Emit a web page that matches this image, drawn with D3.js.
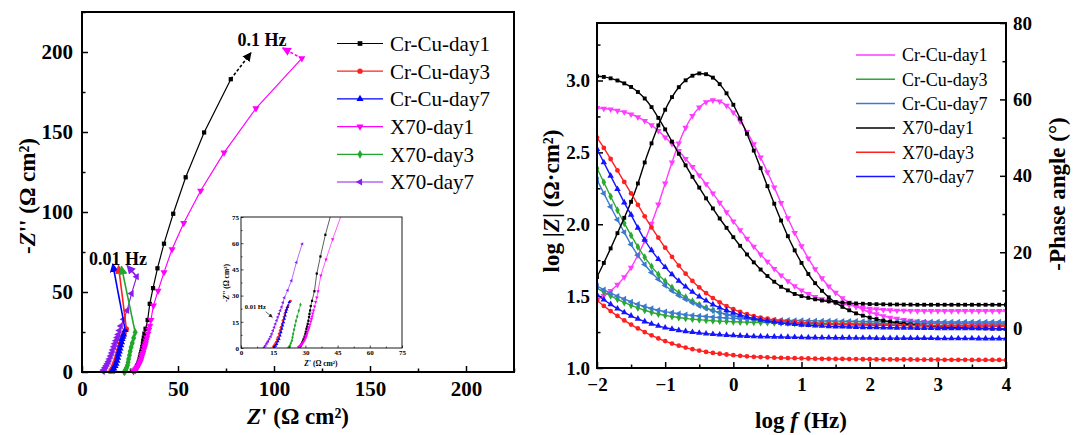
<!DOCTYPE html>
<html>
<head>
<meta charset="utf-8">
<script src="https://cdn.jsdelivr.net/npm/d3@7"></script>
<style>
  body { margin: 0; background: #fff; }
</style>
</head>
<body>
<script>
// ---------- Nyquist data [Z', -Z''] (ohm cm2), high -> low frequency ----------
const nyqCrCu1 = [[27.1,0.4],[27.5,0.8],[27.8,1.3],[28.2,2.2],[28.6,3.3],[28.9,4.2],[29.2,5.2],[29.6,6.5],[30.0,8.0],[30.2,9.3],
  [30.5,11.0],[30.8,12.3],[31.1,13.8],[31.4,15.6],[31.7,17.7],[31.9,19.5],[32.2,21.5],[32.5,24.0],[33.1,27.0],[34.2,32.5],
  [35.3,42.6],[37.0,52.4],[39.3,64.8],[42.7,80.2],[47.5,98.9],[54.0,121.7],[63.6,149.7],[77.5,183.0]];
const nyqCrCu3 = [[15.1,0.8],[15.7,2.0],[16.3,3.3],[16.8,4.8],[17.2,6.2],[17.7,8.1],[18.2,10.0],[18.6,11.9],[19.1,13.8],[19.5,15.8],
  [20.0,17.7],[20.4,19.6],[20.9,21.5],[21.4,23.0],[22.0,24.4],[23.1,26.9]];
const nyqCrCu7 = [[15.5,0.4],[16.1,1.3],[16.6,2.3],[17.2,3.8],[17.7,5.2],[18.2,7.1],[18.6,9.0],[19.0,11.0],[19.4,12.9],[19.8,14.8],
  [20.2,16.7],[20.6,18.6],[20.9,20.6],[21.3,22.0],[21.7,23.5],[22.5,26.3]];
const nyqX70d1 = [[26.8,0.4],[27.4,1.0],[28.0,1.7],[28.5,2.5],[28.9,3.3],[29.4,4.2],[29.8,5.2],[30.2,6.1],[30.5,7.1],[30.8,8.3],
  [31.1,9.6],[31.4,10.8],[31.7,11.9],[32.1,13.5],[32.5,15.2],[32.8,16.6],[33.1,18.0],[33.4,19.7],[33.8,21.5],[34.3,23.8],
  [34.8,26.3],[35.3,28.9],[35.9,32.5],[37.2,41.5],[39.6,50.7],[42.7,62.3],[46.9,76.7],[53.0,93.1],[61.8,113.3],[74.0,137.1],
  [90.6,164.8],[114.5,196.0]];
const nyqX70d3 = [[22.0,0.0],[22.4,0.6],[22.8,1.3],[23.2,2.7],[23.7,4.2],[24.0,6.1],[24.3,8.1],[24.7,10.5],[25.1,12.9],[25.6,15.5],
  [26.2,18.1],[26.9,21.3],[27.7,24.8]];
const nyqX70d7 = [[10.8,0.4],[11.4,1.4],[12.0,2.7],[12.6,3.9],[13.2,5.2],[13.8,6.6],[14.3,8.1],[14.9,10.0],[15.5,11.9],[16.0,13.8],
  [16.6,15.8],[17.1,17.7],[17.7,19.6],[18.3,21.5],[18.9,23.5],[19.5,26.0],[20.2,28.8],[21.7,33.0],[23.5,38.5],[25.8,49.0],
  [28.5,59.6]];

// frequency arrows: [series, from, to]
const arrowsLow = [["Cr-Cu-day7",[22.5,26.3],[16.0,67.5]],["Cr-Cu-day3",[23.1,26.9],[19.0,66.5]],
  ["X70-day3",[27.7,24.8],[20.5,66.0]],["X70-day7",[28.5,59.6],[23.5,66.5]]];
const arrowsHigh = [["Cr-Cu-day1",[77.5,183.0],[88.0,199.5]],["X70-day1",[114.5,196.0],[104.5,202.5]]];

// ---------- Bode data ----------
const logF = [-2.0,-1.9,-1.8,-1.7,-1.6,-1.5,-1.4,-1.3,-1.2,-1.1,
  -1.0,-0.9,-0.8,-0.7,-0.6,-0.5,-0.4,-0.3,-0.2,-0.1,
  0.0,0.1,0.2,0.3,0.4,0.5,0.6,0.7,0.8,0.9,
  1.0,1.1,1.2,1.3,1.4,1.5,1.6,1.7,1.8,1.9,
  2.0,2.1,2.2,2.3,2.4,2.5,2.6,2.7,2.8,2.9,
  3.0,3.1,3.2,3.3,3.4,3.5,3.6,3.7,3.8,3.9,
  4.0];

const zCrCu1 = [2.81,2.805,2.80,2.79,2.78,2.765,2.745,2.72,2.69,2.65,
  2.605,2.56,2.51,2.455,2.40,2.34,2.28,2.215,2.15,2.085,
  2.02,1.96,1.90,1.845,1.79,1.74,1.69,1.645,1.605,1.57,
  1.54,1.515,1.495,1.48,1.468,1.457,1.447,1.437,1.428,1.42,
  1.414,1.409,1.405,1.402,1.40,1.399,1.398,1.397,1.397,1.397,
  1.397,1.397,1.397,1.397,1.397,1.397,1.397,1.397,1.397,1.397,
  1.397];
const phCrCu1 = [7.5,8.6,9.9,11.5,13.5,16.0,19.2,23.0,27.5,32.5,
  38.0,43.5,48.5,52.6,55.7,57.9,59.3,59.8,59.5,58.4,
  56.6,54.3,51.5,48.3,44.8,41.0,37.0,32.9,28.9,25.1,
  21.6,18.4,15.6,13.2,11.1,9.4,8.0,6.8,5.8,5.0,
  4.3,3.8,3.3,2.9,2.6,2.3,2.1,1.9,1.75,1.6,
  1.5,1.4,1.35,1.3,1.25,1.2,1.15,1.1,1.1,1.05,
  1.0];
const zCrCu3 = [1.555,1.528,1.502,1.478,1.456,1.436,1.418,1.402,1.388,1.376,
  1.366,1.358,1.351,1.345,1.34,1.336,1.332,1.329,1.326,1.324,
  1.322,1.32,1.319,1.318,1.317,1.316,1.315,1.315,1.314,1.314,
  1.313,1.313,1.313,1.312,1.312,1.312,1.312,1.311,1.311,1.311,
  1.311,1.311,1.311,1.31,1.31,1.31,1.31,1.31,1.31,1.31,
  1.31,1.31,1.31,1.309,1.309,1.309,1.309,1.309,1.308,1.308,
  1.308];
const phCrCu3 = [42.0,38.3,34.6,31.0,27.6,24.4,21.4,18.7,16.3,14.2,
  12.4,10.8,9.4,8.2,7.2,6.3,5.5,4.8,4.2,3.7,
  3.3,2.9,2.6,2.3,2.1,1.9,1.75,1.6,1.5,1.4,
  1.3,1.25,1.2,1.15,1.1,1.05,1.0,1.0,0.95,0.95,
  0.9,0.9,0.9,0.85,0.85,0.85,0.85,0.8,0.8,0.8,
  0.8,0.8,0.8,0.75,0.75,0.75,0.75,0.75,0.75,0.7,
  0.7];
const zCrCu7 = [1.57,1.545,1.52,1.50,1.48,1.46,1.443,1.428,1.414,1.402,
  1.392,1.384,1.377,1.371,1.366,1.362,1.358,1.354,1.351,1.348,
  1.345,1.343,1.341,1.339,1.337,1.335,1.334,1.333,1.332,1.331,
  1.33,1.329,1.328,1.327,1.327,1.326,1.326,1.325,1.325,1.324,
  1.324,1.323,1.323,1.323,1.322,1.322,1.322,1.322,1.321,1.321,
  1.321,1.321,1.321,1.32,1.32,1.32,1.32,1.32,1.32,1.32,
  1.32];
const phCrCu7 = [39.0,35.4,31.9,28.5,25.2,22.0,19.2,16.8,14.7,12.9,
  11.3,9.9,8.7,7.7,6.8,6.0,5.3,4.7,4.2,3.8,
  3.4,3.1,2.8,2.6,2.4,2.15,1.95,1.8,1.7,1.6,
  1.5,1.45,1.4,1.35,1.3,1.25,1.2,1.15,1.1,1.1,
  1.05,1.0,1.0,0.95,0.95,0.9,0.9,0.9,0.9,0.85,
  0.85,0.85,0.85,0.85,0.8,0.8,0.8,0.8,0.8,0.8,
  0.8];
const zX70d1 = [3.03,3.025,3.015,3.00,2.98,2.955,2.92,2.875,2.815,2.74,
  2.66,2.575,2.49,2.41,2.33,2.255,2.18,2.11,2.04,1.975,
  1.91,1.85,1.79,1.735,1.685,1.64,1.60,1.565,1.54,1.515,
  1.50,1.488,1.478,1.47,1.464,1.459,1.455,1.452,1.449,1.447,
  1.445,1.444,1.443,1.442,1.442,1.441,1.441,1.44,1.44,1.44,
  1.44,1.44,1.44,1.44,1.44,1.44,1.44,1.44,1.44,1.44,
  1.44];
const phX70d1 = [13.5,17.2,21.0,25.0,29.0,33.2,38.0,43.5,48.5,53.2,
  57.3,60.6,63.2,65.0,66.2,66.8,66.6,65.7,64.0,61.6,
  58.6,55.0,51.0,46.6,42.0,37.3,32.7,28.3,24.2,20.5,
  17.2,14.3,11.9,9.9,8.2,6.8,5.7,4.8,4.0,3.4,
  2.9,2.5,2.1,1.8,1.5,1.3,1.1,0.9,0.8,0.6,
  0.5,0.4,0.3,0.25,0.2,0.15,0.1,0.05,0.0,0.0,
  -0.05];
const zX70d3 = [1.47,1.432,1.396,1.362,1.331,1.302,1.275,1.25,1.227,1.206,
  1.187,1.17,1.155,1.142,1.131,1.121,1.112,1.105,1.099,1.094,
  1.089,1.085,1.081,1.078,1.076,1.074,1.072,1.07,1.069,1.068,
  1.067,1.066,1.065,1.064,1.064,1.063,1.063,1.062,1.062,1.061,
  1.061,1.06,1.06,1.06,1.059,1.059,1.059,1.058,1.058,1.058,
  1.058,1.057,1.057,1.057,1.057,1.056,1.056,1.056,1.056,1.056,
  1.055];
const phX70d3 = [50.0,47.3,44.4,41.4,38.4,35.4,32.4,29.4,26.5,23.8,
  21.2,18.8,16.5,14.4,12.5,10.8,9.3,8.0,6.9,5.9,
  5.1,4.4,3.8,3.3,2.9,2.6,2.3,2.1,1.9,1.75,
  1.6,1.5,1.4,1.3,1.25,1.2,1.15,1.1,1.05,1.0,
  0.95,0.9,0.9,0.85,0.85,0.8,0.8,0.8,0.75,0.75,
  0.75,0.7,0.7,0.7,0.7,0.65,0.65,0.65,0.65,0.6,
  0.6];
const zX70d7 = [1.51,1.475,1.443,1.413,1.387,1.363,1.342,1.323,1.307,1.293,
  1.281,1.271,1.262,1.255,1.249,1.244,1.239,1.235,1.232,1.229,
  1.226,1.224,1.222,1.22,1.219,1.218,1.217,1.216,1.215,1.214,
  1.213,1.212,1.212,1.211,1.211,1.21,1.21,1.21,1.209,1.209,
  1.209,1.208,1.208,1.208,1.208,1.207,1.207,1.207,1.207,1.207,
  1.206,1.206,1.206,1.206,1.206,1.206,1.205,1.205,1.205,1.205,
  1.205];
const phX70d7 = [47.0,43.5,40.0,36.5,33.0,29.8,26.4,23.2,20.5,18.2,
  16.1,14.2,12.5,11.0,9.6,8.4,7.3,6.3,5.5,4.8,
  4.2,3.6,3.1,2.7,2.3,2.0,1.75,1.5,1.3,1.15,
  1.0,0.9,0.8,0.7,0.6,0.55,0.5,0.45,0.4,0.35,
  0.3,0.3,0.25,0.25,0.2,0.2,0.2,0.15,0.15,0.15,
  0.1,0.1,0.1,0.1,0.05,0.05,0.05,0.05,0.0,0.0,
  0.0];

// ---------- styles ----------
const serif = '"Liberation Serif","Times New Roman",serif';
const shapes = {
  square: [d3.symbolSquare, 0], circle: [d3.symbolCircle, 0], up: [d3.symbolTriangle, 0],
  down: [d3.symbolTriangle, 180], diamond: [d3.symbolDiamond, 0], left: [d3.symbolTriangle, -90]
};

const nyqSeries = [
  { name: "Cr-Cu-day1", pts: nyqCrCu1, color: "#000000", shape: "square" },
  { name: "Cr-Cu-day3", pts: nyqCrCu3, color: "#ff2020", shape: "circle" },
  { name: "Cr-Cu-day7", pts: nyqCrCu7, color: "#0000ff", shape: "up" },
  { name: "X70-day1", pts: nyqX70d1, color: "#ff00ff", shape: "down" },
  { name: "X70-day3", pts: nyqX70d3, color: "#1fa82a", shape: "diamond" },
  { name: "X70-day7", pts: nyqX70d7, color: "#8a1cf0", shape: "left" }
];
const nyqColor = new Map(nyqSeries.map(s => [s.name, s.color]));

const bodeSeries = [
  { name: "Cr-Cu-day1", z: zCrCu1, ph: phCrCu1, color: "#ff3cff", shape: "down" },
  { name: "Cr-Cu-day3", z: zCrCu3, ph: phCrCu3, color: "#2aa830", shape: "diamond" },
  { name: "Cr-Cu-day7", z: zCrCu7, ph: phCrCu7, color: "#3c7ad0", shape: "left" },
  { name: "X70-day1", z: zX70d1, ph: phX70d1, color: "#000000", shape: "square" },
  { name: "X70-day3", z: zX70d3, ph: phX70d3, color: "#ff2020", shape: "circle" },
  { name: "X70-day7", z: zX70d7, ph: phX70d7, color: "#1414ff", shape: "up" }
];

const svg = d3.select("body").append("svg")
  .attr("width", 1086).attr("height", 435)
  .style("font-family", serif);

const defs = svg.append("defs");
function arrowHead(id, color, size) {
  defs.append("marker").attr("id", id)
    .attr("viewBox", "0 0 10 10").attr("refX", 9).attr("refY", 5)
    .attr("markerUnits", "userSpaceOnUse")
    .attr("markerWidth", size).attr("markerHeight", size)
    .attr("orient", "auto")
    .append("path").attr("d", "M0,0L10,5L0,10Z").attr("fill", color);
}

function symbolAt(g, data, x, y, shape, size, color) {
  const [type, rot] = shapes[shape];
  g.selectAll(null).data(data).join("path")
    .attr("d", d3.symbol(type, size)())
    .attr("transform", d => `translate(${x(d)},${y(d)}) rotate(${rot})`)
    .attr("fill", color);
}

function axisPair(axisFn, scale, pos, major, minor, fmt, fs, pad, big, small, sw) {
  const g = svg.append("g").attr("transform", pos)
    .call(axisFn(scale).tickValues(major).tickSize(-big).tickPadding(pad).tickFormat(fmt));
  g.select(".domain").remove();
  g.selectAll(".tick line").attr("stroke-width", sw);
  g.selectAll(".tick text")
    .attr("font-family", serif).attr("font-size", fs).attr("font-weight", "bold").attr("fill", "#000");
  const m = svg.append("g").attr("transform", pos)
    .call(axisFn(scale).tickValues(minor).tickSize(-small).tickFormat(""));
  m.select(".domain").remove();
  m.selectAll(".tick line").attr("stroke-width", sw);
}

// ================= LEFT PANEL: Nyquist =================
const xN = d3.scaleLinear().domain([0, 225]).range([82, 514]);
const yN = d3.scaleLinear().domain([0, 225]).range([372, 12]);

axisPair(d3.axisBottom, xN, "translate(0,372)", [0, 50, 100, 150, 200], [25, 75, 125, 175, 225],
  d3.format("d"), 21, 9, 6, 3.5, 1.5);
axisPair(d3.axisLeft, yN, "translate(82,0)", [0, 50, 100, 150, 200], [25, 75, 125, 175, 225],
  d3.format("d"), 21, 9, 6, 3.5, 1.5);

const gN = svg.append("g");
nyqSeries.forEach(s => {
  gN.append("path").datum(s.pts)
    .attr("d", d3.line().x(d => xN(d[0])).y(d => yN(d[1])))
    .attr("fill", "none").attr("stroke", s.color).attr("stroke-width", 1.2);
  symbolAt(gN, s.pts, d => xN(d[0]), d => yN(d[1]), s.shape, s.shape === "square" ? 18 : 22, s.color);
});

// frequency arrows
nyqSeries.forEach(s => arrowHead("ah-" + s.name, s.color, 9));
arrowsLow.concat(arrowsHigh).forEach(([name, a, b], i) => {
  gN.append("line")
    .attr("x1", xN(a[0])).attr("y1", yN(a[1])).attr("x2", xN(b[0])).attr("y2", yN(b[1]))
    .attr("stroke", nyqColor.get(name)).attr("stroke-width", 1.6)
    .attr("stroke-dasharray", i >= arrowsLow.length ? "3,2" : null)
    .attr("marker-end", `url(#ah-${name})`);
});
gN.append("text").attr("x", xN(81)).attr("y", yN(204))
  .attr("font-size", 18).attr("font-weight", "bold").text("0.1 Hz");
gN.append("text").attr("x", xN(3.6)).attr("y", yN(67))
  .attr("font-size", 18).attr("font-weight", "bold").text("0.01 Hz");

svg.append("rect").attr("x", 82).attr("y", 12).attr("width", 432).attr("height", 360)
  .attr("fill", "none").attr("stroke", "#000").attr("stroke-width", 2);

// legend
const legN = svg.append("g");
nyqSeries.forEach((s, i) => {
  const yy = 43.5 + i * 27.7;
  legN.append("line").attr("x1", 337).attr("x2", 383).attr("y1", yy).attr("y2", yy)
    .attr("stroke", s.color).attr("stroke-width", 1.2);
  symbolAt(legN, [0], () => 360, () => yy, s.shape, 22, s.color);
  legN.append("text").attr("x", 390).attr("y", yy).attr("dy", "0.35em")
    .attr("font-size", 21).text(s.name);
});

// axis titles
const tY = svg.append("text").attr("transform", "translate(27,196) rotate(-90)")
  .attr("text-anchor", "middle").attr("dy", "0.35em").attr("font-size", 23).attr("font-weight", "bold");
tY.append("tspan").text("-");
tY.append("tspan").attr("font-style", "italic").text("Z");
tY.append("tspan").text("'' (Ω cm²)");
const tX = svg.append("text").attr("x", 298).attr("y", 424)
  .attr("text-anchor", "middle").attr("font-size", 23).attr("font-weight", "bold");
tX.append("tspan").attr("font-style", "italic").text("Z");
tX.append("tspan").text("' (Ω cm²)");

// ---------- inset ----------
const xI = d3.scaleLinear().domain([0, 75]).range([241, 402]);
const yI = d3.scaleLinear().domain([0, 75]).range([348, 217]);
svg.append("rect").attr("x", 241).attr("y", 217).attr("width", 161).attr("height", 131).attr("fill", "#fff");
defs.append("clipPath").attr("id", "clipInset").append("rect")
  .attr("x", 241).attr("y", 217).attr("width", 161).attr("height", 131);
const gI = svg.append("g").attr("clip-path", "url(#clipInset)");
nyqSeries.forEach(s => {
  gI.append("path").datum(s.pts)
    .attr("d", d3.line().x(d => xI(d[0])).y(d => yI(d[1])))
    .attr("fill", "none").attr("stroke", s.color).attr("stroke-width", 0.8).attr("stroke-opacity", 0.8);
  symbolAt(gI, s.pts, d => xI(d[0]), d => yI(d[1]), s.shape, 5, s.color);
});
axisPair(d3.axisBottom, xI, "translate(0,348)", [0, 15, 30, 45, 60, 75], [7.5, 22.5, 37.5, 52.5, 67.5],
  d3.format("d"), 7, 2, 2.5, 1.5, 0.7);
axisPair(d3.axisLeft, yI, "translate(241,0)", [0, 15, 30, 45, 60, 75], [7.5, 22.5, 37.5, 52.5, 67.5],
  d3.format("d"), 7, 2, 2.5, 1.5, 0.7);
svg.append("rect").attr("x", 241).attr("y", 217).attr("width", 161).attr("height", 131)
  .attr("fill", "none").attr("stroke", "#000").attr("stroke-width", 0.9);
arrowHead("ah-inset", "#222", 4);
svg.append("line").attr("x1", xI(11.5)).attr("y1", yI(20.8)).attr("x2", xI(14.6)).attr("y2", yI(17.6))
  .attr("stroke", "#222").attr("stroke-width", 0.7).attr("marker-end", "url(#ah-inset)");
svg.append("text").attr("x", xI(1.8)).attr("y", yI(22.5))
  .attr("font-size", 6.5).attr("font-weight", "bold").text("0.01 Hz");
const iY = svg.append("text").attr("transform", "translate(226,283) rotate(-90)")
  .attr("text-anchor", "middle").attr("dy", "0.35em").attr("font-size", 7.5).attr("font-weight", "bold");
iY.append("tspan").text("-");
iY.append("tspan").attr("font-style", "italic").text("Z");
iY.append("tspan").text("'' (Ω cm²)");
const iX = svg.append("text").attr("x", 321).attr("y", 366)
  .attr("text-anchor", "middle").attr("font-size", 7.5).attr("font-weight", "bold");
iX.append("tspan").attr("font-style", "italic").text("Z");
iX.append("tspan").text("' (Ω cm²)");

// ================= RIGHT PANEL: Bode =================
const xB = d3.scaleLinear().domain([-2, 4]).range([597, 1006]);
const yZ = d3.scaleLinear().domain([1.0, 3.4]).range([368, 23]);
const yP = d3.scaleLinear().domain([-10.3, 80]).range([368, 23]);

axisPair(d3.axisBottom, xB, "translate(0,368)", [-2, -1, 0, 1, 2, 3, 4], [-1.5, -0.5, 0.5, 1.5, 2.5, 3.5],
  d3.format("d"), 19, 10, 6, 3.5, 1.5);
axisPair(d3.axisLeft, yZ, "translate(597,0)", [1.0, 1.5, 2.0, 2.5, 3.0], [1.25, 1.75, 2.25, 2.75, 3.25],
  d3.format(".1f"), 19, 7, 6, 3.5, 1.5);
axisPair(d3.axisRight, yP, "translate(1006,0)", [0, 20, 40, 60, 80], [-10, 10, 30, 50, 70],
  d3.format("d"), 19, 7, 6, 3.5, 1.5);

defs.append("clipPath").attr("id", "clipBode").append("rect")
  .attr("x", 597).attr("y", 23).attr("width", 409).attr("height", 345);
const gB = svg.append("g").attr("clip-path", "url(#clipBode)");
bodeSeries.forEach(s => {
  [[s.z, yZ], [s.ph, yP]].forEach(([vals, yS]) => {
    const pts = logF.map((f, i) => [f, vals[i]]);
    gB.append("path").datum(pts)
      .attr("d", d3.line().x(d => xB(d[0])).y(d => yS(d[1])).curve(d3.curveMonotoneX))
      .attr("fill", "none").attr("stroke", s.color).attr("stroke-width", 1.4);
    symbolAt(gB, pts, d => xB(d[0]), d => yS(d[1]), s.shape, s.shape === "square" ? 15 : 18, s.color);
  });
});

svg.append("rect").attr("x", 597).attr("y", 23).attr("width", 409).attr("height", 345)
  .attr("fill", "none").attr("stroke", "#000").attr("stroke-width", 2);

const legB = svg.append("g");
bodeSeries.forEach((s, i) => {
  const yy = 55 + i * 24.3;
  legB.append("line").attr("x1", 856).attr("x2", 895).attr("y1", yy).attr("y2", yy)
    .attr("stroke", s.color).attr("stroke-width", 1.5);
  legB.append("text").attr("x", 902).attr("y", yy).attr("dy", "0.35em")
    .attr("font-size", 18).text(s.name);
});

const bX = svg.append("text").attr("x", 801).attr("y", 428)
  .attr("text-anchor", "middle").attr("font-size", 23).attr("font-weight", "bold");
bX.append("tspan").text("log ");
bX.append("tspan").attr("font-style", "italic").text("f");
bX.append("tspan").text(" (Hz)");
const bY = svg.append("text").attr("transform", "translate(551,201) rotate(-90)")
  .attr("text-anchor", "middle").attr("dy", "0.35em").attr("font-size", 23).attr("font-weight", "bold");
bY.append("tspan").text("log |");
bY.append("tspan").attr("font-style", "italic").text("Z");
bY.append("tspan").text("| (Ω·cm²)");
svg.append("text").attr("transform", "translate(1057,194) rotate(-90)")
  .attr("text-anchor", "middle").attr("dy", "0.35em").attr("font-size", 23).attr("font-weight", "bold")
  .text("-Phase angle (°)");
</script>
</body>
</html>
